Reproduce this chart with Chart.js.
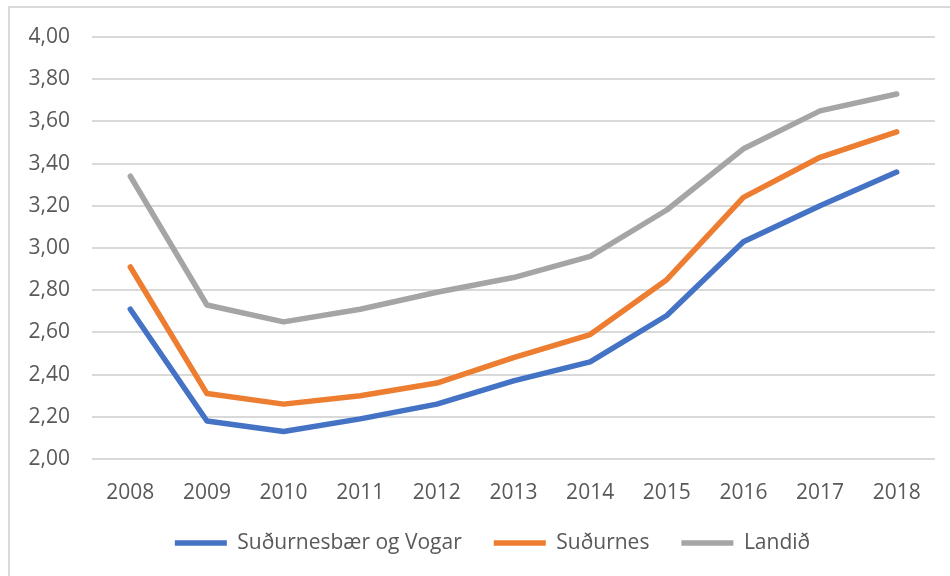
<!DOCTYPE html>
<html>
<head>
<meta charset="utf-8">
<script src="https://cdn.jsdelivr.net/npm/chart.js@4/dist/chart.umd.min.js"></script>
<style>
  html, body { margin: 0; padding: 0; background: #fff; width: 950px; height: 576px; overflow: hidden; }
  .frame-top { position: absolute; left: 8px; top: 6px; width: 942px; height: 2px; background: #d9d9d9; }
  .frame-left { position: absolute; left: 8px; top: 6px; width: 2px; height: 570px; background: #d9d9d9; }
  #wrap { position: absolute; left: 10px; top: 8px; width: 940px; height: 568px; }
</style>
</head>
<body>
<div class="frame-top"></div>
<div class="frame-left"></div>
<div id="wrap"><canvas id="chart"></canvas></div>
<script>
// Years on the category axis
const years = ['2008', '2009', '2010', '2011', '2012', '2013', '2014', '2015', '2016', '2017', '2018'];

// Series values per year
const sudurnesbaerOgVogar = [2.71, 2.18, 2.13, 2.19, 2.26, 2.37, 2.46, 2.68, 3.03, 3.20, 3.36];
const sudurnes            = [2.91, 2.31, 2.26, 2.30, 2.36, 2.48, 2.59, 2.85, 3.24, 3.43, 3.55];
const landid              = [3.34, 2.73, 2.65, 2.71, 2.79, 2.86, 2.96, 3.18, 3.47, 3.65, 3.73];

// Value axis ticks
const yTicks = [2.00, 2.20, 2.40, 2.60, 2.80, 3.00, 3.20, 3.40, 3.60, 3.80, 4.00];

const textColor = '#595959';
const gridColor = '#d9d9d9';
const fontFamily = '"Open Sans", "Liberation Sans", sans-serif';

function lineSet(label, values, color) {
  return {
    label: label,
    data: values,
    borderColor: color,
    backgroundColor: color,
    borderWidth: 5.5,
    borderCapStyle: 'round',
    borderJoinStyle: 'round',
    pointRadius: 0,
    pointHoverRadius: 0,
    tension: 0,
    fill: false
  };
}

// Nudges the bottom legend row a little to the right of the canvas centre
const legendShift = {
  id: 'legendShift',
  afterLayout(chart) {
    if (chart.legend) chart.legend.left += 40;
  }
};

new Chart(document.getElementById('chart'), {
  type: 'line',
  data: {
    labels: years,
    datasets: [
      lineSet('Suðurnesbær og Vogar', sudurnesbaerOgVogar, '#4472c4'),
      lineSet('Suðurnes', sudurnes, '#ed7d31'),
      lineSet('Landið', landid, '#a5a5a5')
    ]
  },
  plugins: [legendShift],
  options: {
    responsive: true,
    maintainAspectRatio: false,
    animation: false,
    layout: { padding: { top: 29, right: 15, left: 0, bottom: 12.5 } },
    plugins: {
      tooltip: { enabled: false },
      legend: {
        position: 'bottom',
        labels: {
          usePointStyle: true,
          pointStyle: 'line',
          pointStyleWidth: 52,
          color: textColor,
          padding: 32,
          font: { family: fontFamily, size: 21 }
        }
      }
    },
    scales: {
      x: {
        offset: true,
        afterFit: (scale) => { scale.height = 41.5; scale.paddingLeft = 0; scale.paddingRight = 0; },
        grid: { display: false, drawTicks: false },
        border: { display: false },
        ticks: { color: textColor, padding: 21, font: { family: fontFamily, size: 21 }, maxRotation: 0 }
      },
      y: {
        min: 2,
        max: 4,
        afterBuildTicks: (scale) => { scale.ticks = yTicks.map(v => ({ value: v })); },
        afterFit: (scale) => { scale.width = 82; scale.paddingTop = 0; scale.paddingBottom = 0; },
        grid: { color: gridColor, lineWidth: 2, drawTicks: false },
        border: { display: false },
        ticks: {
          color: textColor,
          padding: 22,
          font: { family: fontFamily, size: 21 },
          callback: (v) => Number(v).toFixed(2).replace('.', ',')
        }
      }
    }
  }
});
</script>
</body>
</html>
